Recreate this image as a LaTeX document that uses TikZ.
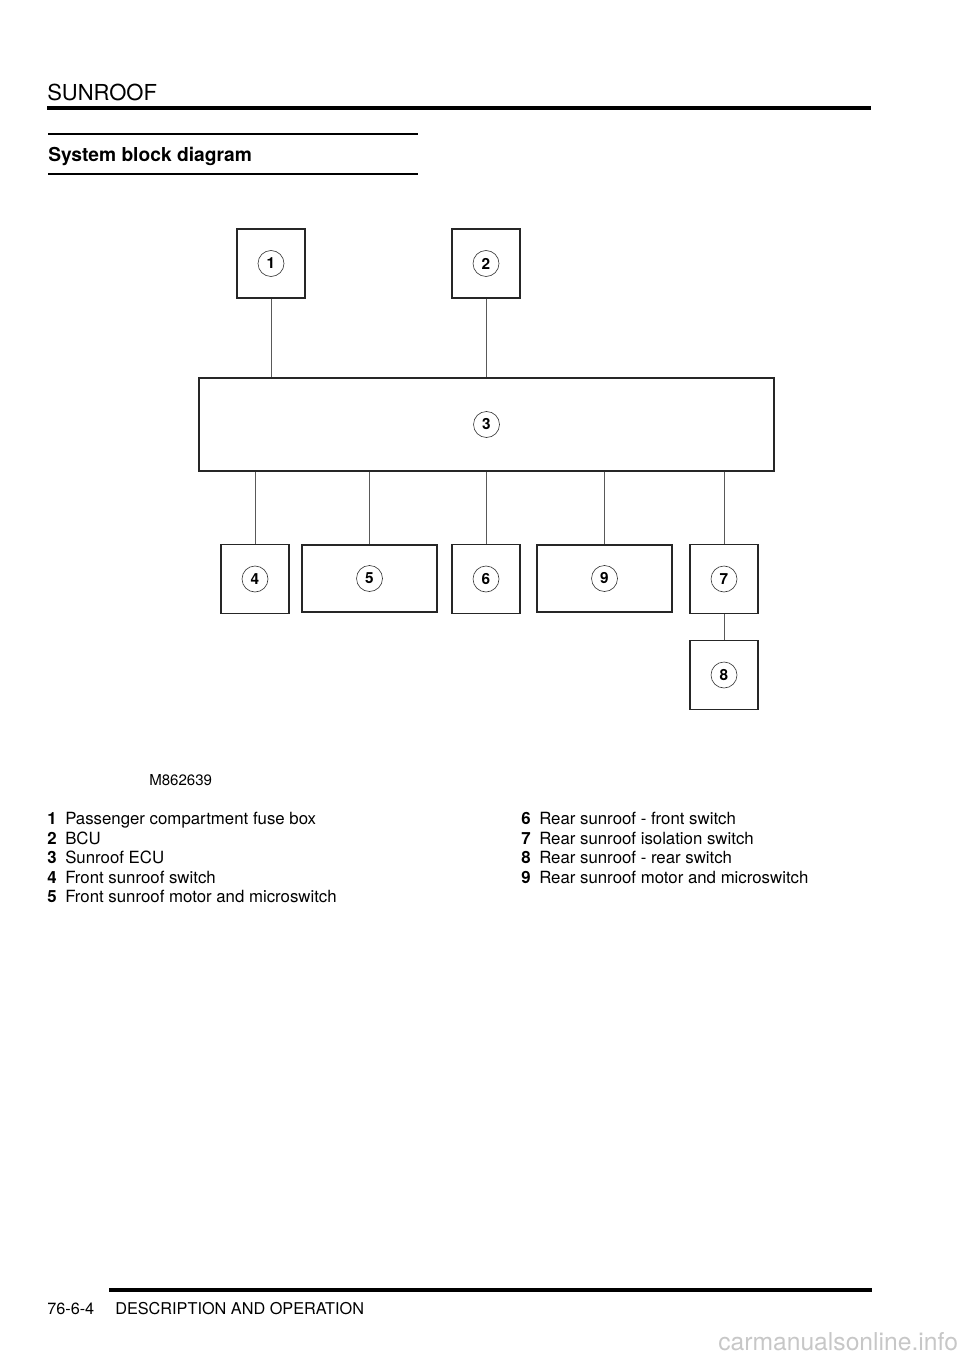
\documentclass[tikz,border=0pt]{standalone}
\usepackage{fontspec}
\setmainfont{TeX Gyre Heros}
\usepackage{tikz}

\tikzset{
	box/.style={draw=black!85, line width=1.2pt, inner sep=0pt},
	smallbox/.style={box, minimum width=51pt, minimum height=51.75pt},
	widebox/.style={box, minimum width=101.25pt, minimum height=50.25pt},
	num/.style={draw=black!80, line width=0.45pt, circle, minimum size=19.5pt, inner sep=0pt, font=\fontsize{11.5}{13}\selectfont\bfseries},
	wire/.style={draw=black!65, line width=0.55pt},
	txt/.style={anchor=base west, inner sep=0pt, font=\fontsize{12.6}{15}\selectfont},
	rule/.style={line width=#1, line cap=butt},
}
\newcommand{\keynum}[1]{\makebox[13.5pt][l]{\bfseries #1}}

\begin{document}
\begin{tikzpicture}[x=0.75pt,y=-0.75pt]
	\useasboundingbox (0,0) rectangle (960,1358);
	
	%HEADER
	\node[txt, font=\fontsize{16.5}{18}\selectfont] (head) at (47,100.5) {SUNROOF};
	\draw[rule=3pt] (47,108) -- (871,108);
	\draw[rule=1.9pt] (48,134) -- (418,134);
	\node[txt, font=\fontsize{14.4}{16}\selectfont\bfseries] (title) at (48,162) {System block diagram};
	\draw[rule=1.9pt] (48,174) -- (418,174);
	
	%BOXES
	\node[smallbox] (b1) at (271,263.5) {};
	\node[smallbox] (b2) at (486,263.5) {};
	\node[box, minimum width=431.25pt, minimum height=69.75pt] (b3) at (486.5,424.5) {};
	\node[smallbox] (b4) at (255,579) {};
	\node[widebox] (b5) at (369.5,578.5) {};
	\node[smallbox] (b6) at (486,579) {};
	\node[widebox] (b9) at (604.5,578.5) {};
	\node[smallbox] (b7) at (724,579) {};
	\node[smallbox] (b8) at (724,675) {};
	
	%NUMBERS
	\node[num] (n1) at (b1) {1};
	\node[num] (n2) at (b2) {2};
	\node[num] (n3) at (b3) {3};
	\node[num] (n4) at (b4) {4};
	\node[num] (n5) at (b5) {5};
	\node[num] (n6) at (b6) {6};
	\node[num] (n9) at (b9) {9};
	\node[num] (n7) at (b7) {7};
	\node[num] (n8) at (b8) {8};
	
	%WIRES
	\draw[wire] (b1.south) -- (b1.south |- b3.north);
	\draw[wire] (b2.south) -- (b2.south |- b3.north);
	\draw[wire] (b4.north |- b3.south) -- (b4.north);
	\draw[wire] (b5.north |- b3.south) -- (b5.north);
	\draw[wire] (b6.north |- b3.south) -- (b6.north);
	\draw[wire] (b9.north |- b3.south) -- (b9.north);
	\draw[wire] (b7.north |- b3.south) -- (b7.north);
	\draw[wire] (b7.south) -- (b8.north);
	
	%LEGEND
	\node[txt, font=\fontsize{11.3}{13}\selectfont] (code) at (149,785.5) {M862639};
	\def\dy{19.5} %line spacing of the key
	\node[txt] (l1) at (47,824.5) {\keynum{1}Passenger compartment fuse box};
	\node[txt] (l2) at (47,{824.5+\dy}) {\keynum{2}BCU};
	\node[txt] (l3) at (47,{824.5+2*\dy}) {\keynum{3}Sunroof ECU};
	\node[txt] (l4) at (47,{824.5+3*\dy}) {\keynum{4}Front sunroof switch};
	\node[txt] (l5) at (47,{824.5+4*\dy}) {\keynum{5}Front sunroof motor and microswitch};
	\node[txt] (l6) at (521,824.5) {\keynum{6}Rear sunroof - front switch};
	\node[txt] (l7) at (521,{824.5+\dy}) {\keynum{7}Rear sunroof isolation switch};
	\node[txt] (l8) at (521,{824.5+2*\dy}) {\keynum{8}Rear sunroof - rear switch};
	\node[txt] (l9) at (521,{824.5+3*\dy}) {\keynum{9}Rear sunroof motor and microswitch};
	
	%FOOTER
	\draw[rule=3pt] (109,1290) -- (872,1290);
	\node[txt, font=\fontsize{12.2}{14}\selectfont] (page) at (47,1314.5) {76-6-4};
	\node[txt, font=\fontsize{12.2}{14}\selectfont] (part) at (115,1314.5) {DESCRIPTION AND OPERATION};
	\node[txt, font=\fontsize{18.5}{20}\selectfont, text=black!22] (mark) at (718,1350) {carmanualsonline.info};
\end{tikzpicture}
\end{document}
